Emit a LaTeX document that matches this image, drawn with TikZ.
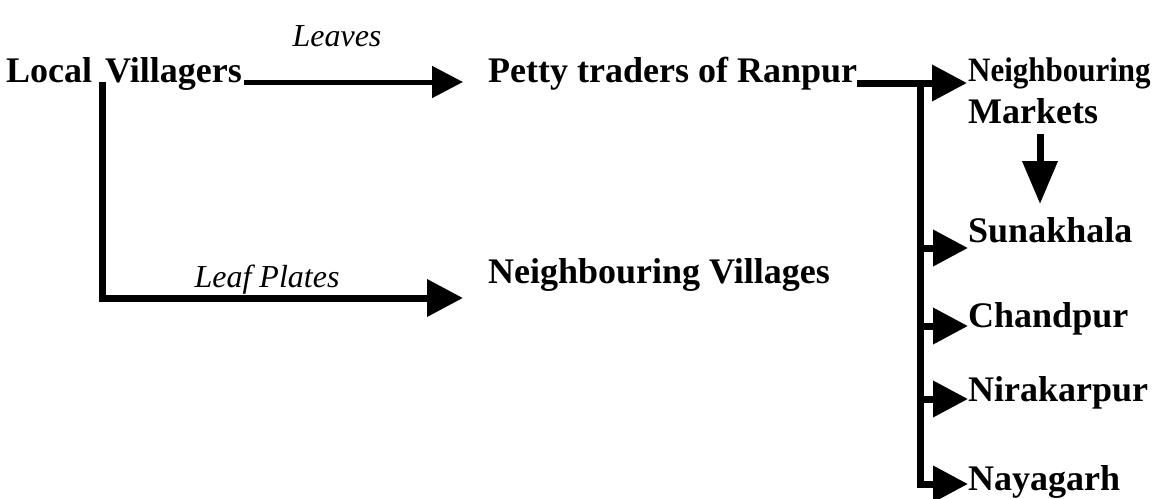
\documentclass[tikz,border=0pt]{standalone}
\usepackage{fontspec}
\setmainfont{Liberation Serif}
\usetikzlibrary{arrows.meta,calc}
\tikzset{
  lbl/.style={inner sep=0pt, anchor=base west, font=\fontsize{36}{40}\selectfont\bfseries},
  itl/.style={inner sep=0pt, anchor=base, font=\fontsize{32}{36}\selectfont\itshape},
  thinarr/.style={line width=5pt, -{Triangle[length=31pt,width=31pt]}},
  thickarr/.style={line width=7pt, -{Triangle[length=36pt,width=36pt]}},
  rarr/.style={line width=7pt, -{Triangle[length=35pt,width=35pt]}},
  darr/.style={line width=7pt, -{Triangle[length=43pt,width=34pt]}},
}
\begin{document}
\begin{tikzpicture}[x=1pt,y=-1pt]
\useasboundingbox (0,0) rectangle (1161,498);
% nodes
\node[lbl] (lv) at (6,82) {Local\hspace{13pt}Villagers};
\node[itl] (leaves) at (337,46) {Leaves};
\node[lbl] (ptr) at (488,82) {Petty traders of Ranpur};
\node[lbl] (nv) at (488,283) {Neighbouring Villages};
\node[itl] (lp) at (267,287) {Leaf Plates};
\node[lbl] (nb) at (968,81) {\scalebox{0.86}[0.95]{Neighbouring}};
\node[lbl] (mk) at (968,123) {Markets};
\node[lbl] (sun) at (968,242) {Sunakhala};
\node[lbl] (cha) at (968,327) {Chandpur};
\node[lbl] (nir) at (968,401) {Nirakarpur};
\node[lbl] (nay) at (968,490) {Nayagarh};
% coordinates
\coordinate (lvtip) at ([xshift=-25pt]ptr.base west);
\coordinate (lvcorner) at (102,298);
\coordinate (nvtip) at ([xshift=-25pt]nv.base west |- lvcorner);
\coordinate (ptrtip) at (967,83);
\coordinate (bar) at (920,83);
\coordinate (mktop) at (1040,134);
\coordinate (mktip) at (1040,204);
% connectors
\draw[thinarr] ([xshift=2pt]lv.base east) -- (lvtip);
\draw[thickarr] (lv.base west -| lvcorner) |- (nvtip);
\draw[rarr] (ptr.base east |- ptrtip) -- (ptrtip);
\draw[line width=7pt] (bar) -- (920,484);
\draw[rarr] (920,248) -- (sun.base west |- 0,248);
\draw[rarr] (920,326) -- (cha.base west |- 0,326);
\draw[rarr] (920,399) -- (nir.base west |- 0,399);
\draw[rarr] ([yshift=-3.5pt]920,484) |- (nay.base west |- 0,484);
\draw[darr] (mktop) -- (mktip);
\end{tikzpicture}
\end{document}
